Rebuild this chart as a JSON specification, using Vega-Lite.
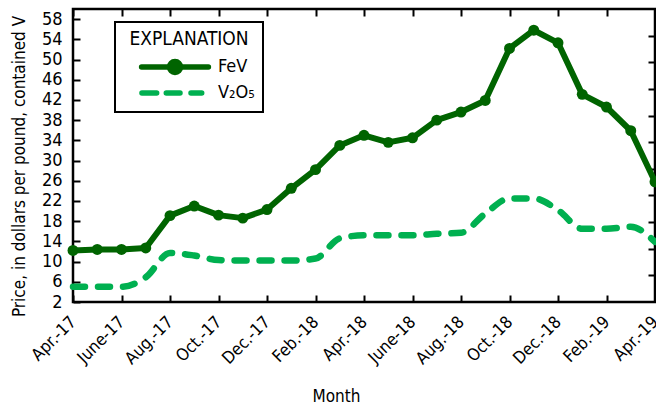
{
  "$schema": "https://vega.github.io/schema/vega-lite/v6.json",
  "autosize": "none",
  "width": 582,
  "height": 293,
  "padding": {"left": 73, "top": 9, "right": 1, "bottom": 109},
  "background": "white",
  "data": {"values": [
    {"month": "Apr.-17", "series": "FeV", "price": 12.2},
    {"month": "May-17", "series": "FeV", "price": 12.4},
    {"month": "June-17", "series": "FeV", "price": 12.4},
    {"month": "July-17", "series": "FeV", "price": 12.7},
    {"month": "Aug.-17", "series": "FeV", "price": 19.1},
    {"month": "Sept.-17", "series": "FeV", "price": 21.0},
    {"month": "Oct.-17", "series": "FeV", "price": 19.2},
    {"month": "Nov.-17", "series": "FeV", "price": 18.6},
    {"month": "Dec.-17", "series": "FeV", "price": 20.3},
    {"month": "Jan.-18", "series": "FeV", "price": 24.5},
    {"month": "Feb.-18", "series": "FeV", "price": 28.2},
    {"month": "Mar.-18", "series": "FeV", "price": 33.0},
    {"month": "Apr.-18", "series": "FeV", "price": 35.0},
    {"month": "May-18", "series": "FeV", "price": 33.6},
    {"month": "June-18", "series": "FeV", "price": 34.5},
    {"month": "July-18", "series": "FeV", "price": 38.0},
    {"month": "Aug.-18", "series": "FeV", "price": 39.6},
    {"month": "Sept.-18", "series": "FeV", "price": 41.9},
    {"month": "Oct.-18", "series": "FeV", "price": 52.2},
    {"month": "Nov.-18", "series": "FeV", "price": 55.8},
    {"month": "Dec.-18", "series": "FeV", "price": 53.3},
    {"month": "Jan.-19", "series": "FeV", "price": 43.1},
    {"month": "Feb.-19", "series": "FeV", "price": 40.6},
    {"month": "Mar.-19", "series": "FeV", "price": 35.9},
    {"month": "Apr.-19", "series": "FeV", "price": 25.8},
    {"month": "Apr.-17", "series": "V₂O₅", "price": 5.0},
    {"month": "May-17", "series": "V₂O₅", "price": 5.0},
    {"month": "June-17", "series": "V₂O₅", "price": 5.0},
    {"month": "July-17", "series": "V₂O₅", "price": 6.9},
    {"month": "Aug.-17", "series": "V₂O₅", "price": 11.7},
    {"month": "Sept.-17", "series": "V₂O₅", "price": 11.2},
    {"month": "Oct.-17", "series": "V₂O₅", "price": 10.3},
    {"month": "Nov.-17", "series": "V₂O₅", "price": 10.2},
    {"month": "Dec.-17", "series": "V₂O₅", "price": 10.2},
    {"month": "Jan.-18", "series": "V₂O₅", "price": 10.2},
    {"month": "Feb.-18", "series": "V₂O₅", "price": 10.6},
    {"month": "Mar.-18", "series": "V₂O₅", "price": 14.6},
    {"month": "Apr.-18", "series": "V₂O₅", "price": 15.2},
    {"month": "May-18", "series": "V₂O₅", "price": 15.2},
    {"month": "June-18", "series": "V₂O₅", "price": 15.2},
    {"month": "July-18", "series": "V₂O₅", "price": 15.5},
    {"month": "Aug.-18", "series": "V₂O₅", "price": 15.7},
    {"month": "Sept.-18", "series": "V₂O₅", "price": 19.5},
    {"month": "Oct.-18", "series": "V₂O₅", "price": 22.5},
    {"month": "Nov.-18", "series": "V₂O₅", "price": 22.5},
    {"month": "Dec.-18", "series": "V₂O₅", "price": 20.2},
    {"month": "Jan.-19", "series": "V₂O₅", "price": 16.5},
    {"month": "Feb.-19", "series": "V₂O₅", "price": 16.5},
    {"month": "Mar.-19", "series": "V₂O₅", "price": 16.9},
    {"month": "Apr.-19", "series": "V₂O₅", "price": 13.9}
  ]},
  "resolve": {"axis": {"x": "independent", "y": "independent"}},
  "layer": [
    {
      "transform": [{"filter": "datum.series === 'FeV'"}],
      "mark": {"type": "line", "strokeWidth": 6, "interpolate": "linear", "strokeJoin": "round"},
      "encoding": {
        "x": {"field": "month", "type": "ordinal", "sort": null,
          "scale": {"type": "point", "padding": 0},
          "axis": {"orient": "bottom", "values": ["Apr.-17","June-17","Aug.-17","Oct.-17","Dec.-17","Feb.-18","Apr.-18","June-18","Aug.-18","Oct.-18","Dec.-18","Feb.-19","Apr.-19"],
            "labelAngle": -45, "labelAlign": "right", "labelBaseline": "middle", "labelFontSize": 17, "labelPadding": 24,
            "tickSize": -7, "title": "Month", "titleFontSize": 17, "titleFontWeight": "normal", "titleX": 263, "titleY": 86}},
        "y": {"field": "price", "type": "quantitative",
          "scale": {"domain": [2, 60], "nice": false, "zero": false},
          "axis": {"orient": "left", "values": [2,6,10,14,18,22,26,30,34,38,42,46,50,54,58], "labelFontSize": 18, "labelPadding": 18, "tickSize": -7,
            "title": "Price, in dollars per pound, contained V", "titleFontSize": 17, "titleFontWeight": "normal", "titleX": -45, "titleY": 157}},
        "color": {"field": "series", "type": "nominal",
          "scale": {"domain": ["FeV", "V₂O₅"], "range": ["#006400", "#00b050"]},
          "legend": {"orient": "none", "legendX": 42, "legendY": 13, "title": "EXPLANATION",
            "titleFontSize": 19, "titleFontWeight": "normal", "titleColor": "black", "titlePadding": 9, "titleAnchor": "middle",
            "labelFontSize": 18, "labelColor": "black", "labelOffset": 34,
            "padding": 8, "strokeColor": "black", "rowPadding": -6,
            "symbolSize": 100, "symbolStrokeWidth": 5.5, "symbolOffset": 43,
            "encode": {
              "legend": {"update": {"strokeWidth": {"value": 2}}},
              "symbols": {"update": {
                "shape": {"signal": "datum.value === 'FeV' ? 'M-6.68,0L6.68,0M-1.1,0A1.1,1.1,0,1,1,1.1,0A1.1,1.1,0,1,1,-1.1,0Z' : 'M-6.61,0L-3.67,0M-1.74,0L1.0,0M3.2,0L5.34,0'"},
                "fill": {"signal": "datum.value === 'FeV' ? '#006400' : 'transparent'"},
                "strokeCap": {"value": "round"},
                "opacity": {"value": 1}
              }}
            }}}
      }
    },
    {
      "transform": [{"filter": "datum.series !== 'FeV'"}],
      "mark": {"type": "line", "strokeWidth": 6.5, "interpolate": "monotone", "strokeDash": [12, 13], "strokeCap": "round"},
      "encoding": {
        "x": {"field": "month", "type": "ordinal", "sort": null,
          "axis": {"orient": "top", "values": ["Apr.-17","June-17","Aug.-17","Oct.-17","Dec.-17","Feb.-18","Apr.-18","June-18","Aug.-18","Oct.-18","Dec.-18","Feb.-19","Apr.-19"],
            "labels": false, "tickSize": -7, "title": null}},
        "y": {"field": "price", "type": "quantitative",
          "axis": {"orient": "right", "values": [7.273, 12.545, 17.818, 23.091, 28.364, 33.636, 38.909, 44.182, 49.455, 54.727],
            "labels": false, "tickSize": -7, "title": null}},
        "color": {"field": "series", "type": "nominal"}
      }
    },
    {
      "transform": [{"filter": "datum.series === 'FeV'"}],
      "mark": {"type": "point", "filled": true, "size": 120, "opacity": 1, "color": "#006400"},
      "encoding": {
        "x": {"field": "month", "type": "ordinal", "sort": null, "axis": null},
        "y": {"field": "price", "type": "quantitative", "axis": null}
      }
    }
  ],
  "config": {
    "font": "Liberation Sans Narrow, Arial Narrow, DejaVu Sans Condensed, sans-serif",
    "view": {"stroke": "black", "strokeWidth": 2.5},
    "axis": {"grid": false, "domain": false, "tickColor": "black", "tickWidth": 2, "labelColor": "black", "titleColor": "black"}
  }
}
